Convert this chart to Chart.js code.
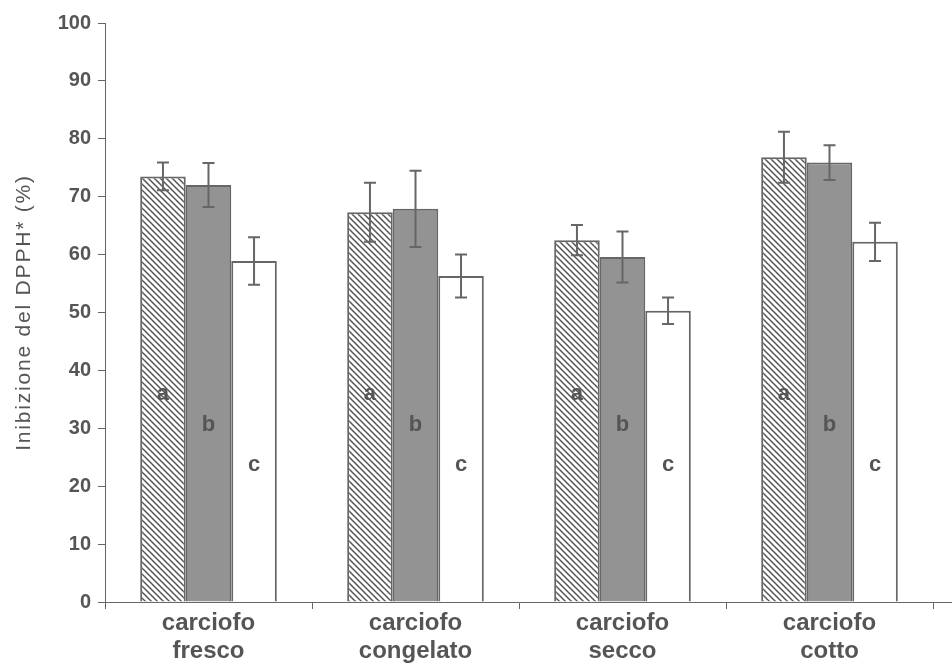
<!DOCTYPE html>
<html>
<head>
<meta charset="utf-8">
<script src="https://cdn.jsdelivr.net/npm/chart.js@4.4.1/dist/chart.umd.min.js"></script>
<style>
  html, body { margin: 0; padding: 0; background: #fff; }
  #wrap { width: 952px; height: 666px; position: relative; }
</style>
</head>
<body>
<div id="wrap"><canvas id="c"></canvas></div>
<script>
// ---- data ----
const categories = [["carciofo", "fresco"], ["carciofo", "congelato"], ["carciofo", "secco"], ["carciofo", "cotto"]];
const seriesLetters = ["a", "b", "c"];
const seriesA = [73.5, 67.3, 62.5, 76.8];
const seriesB = [72.0, 67.9, 59.6, 75.9];
const seriesC = [58.9, 56.3, 50.3, 62.2];
const errA = [2.4, 5.1, 2.6, 4.4];
const errB = [3.8, 6.6, 4.4, 3.0];
const errC = [4.1, 3.7, 2.3, 3.3];
const yTicks = [0, 10, 20, 30, 40, 50, 60, 70, 80, 90, 100];
const yTitle = "Inibizione del DPPH* (%)";

// ---- styles ----
const TXT = "#555555";
const EDGE = "#666666";
const FONT = "'Liberation Sans', Arial, sans-serif";

function hatchPattern() {
  const s = 6;
  const cv = document.createElement("canvas");
  cv.width = s; cv.height = s;
  const g = cv.getContext("2d");
  g.fillStyle = "#ffffff";
  g.fillRect(0, 0, s, s);
  g.strokeStyle = "#555555";
  g.lineWidth = 1.5;
  g.beginPath();
  g.moveTo(-1, -1); g.lineTo(s + 1, s + 1);
  g.moveTo(-1, s - 1); g.lineTo(1, s + 1);
  g.moveTo(s - 1, -1); g.lineTo(s + 1, 1);
  g.stroke();
  return document.getElementById("c").getContext("2d").createPattern(cv, "repeat");
}

const errPlugin = {
  id: "errBars",
  afterDatasetsDraw(chart, args, opts) {
    const ctx = chart.ctx;
    const y = chart.scales.y;
    ctx.save();
    chart.data.datasets.forEach((ds, di) => {
      const meta = chart.getDatasetMeta(di);
      meta.data.forEach((bar, i) => {
        const v = ds.data[i], e = ds.err[i];
        const yt = y.getPixelForValue(v + e), yb = y.getPixelForValue(v - e);
        const x = bar.x;
        ctx.strokeStyle = EDGE;
        ctx.lineWidth = 2;
        ctx.beginPath();
        ctx.moveTo(x, yt); ctx.lineTo(x, yb);
        ctx.moveTo(x - 6, yt); ctx.lineTo(x + 6, yt);
        ctx.moveTo(x - 6, yb); ctx.lineTo(x + 6, yb);
        ctx.stroke();
        // letter
        ctx.fillStyle = TXT;
        ctx.font = "bold 22px " + FONT;
        ctx.textAlign = "center";
        ctx.textBaseline = "middle";
        ctx.fillText(ds.letter, x, y.getPixelForValue(opts.letterY[di]));
      });
    });
    // extend x axis line to the right edge
    const ca = chart.chartArea;
    ctx.strokeStyle = EDGE;
    ctx.lineWidth = 1;
    ctx.beginPath();
    ctx.moveTo(ca.right, y.getPixelForValue(0) + 0.5);
    ctx.lineTo(chart.width, y.getPixelForValue(0) + 0.5);
    ctx.stroke();
    // y axis title (drawn with letter spacing)
    ctx.save();
    ctx.translate(24, (ca.top + ca.bottom) / 2);
    ctx.rotate(-Math.PI / 2);
    ctx.fillStyle = TXT;
    ctx.font = "21px " + FONT;
    if ("letterSpacing" in ctx) ctx.letterSpacing = "1.8px";
    ctx.textAlign = "center";
    ctx.textBaseline = "middle";
    ctx.fillText(yTitle, 0, 0);
    ctx.restore();
    ctx.restore();
  }
};

const common = { borderColor: EDGE, borderWidth: 2, categoryPercentage: 0.66, barPercentage: 1.0 };

new Chart(document.getElementById("c"), {
  type: "bar",
  data: {
    labels: categories,
    datasets: [
      Object.assign({ label: "a", letter: seriesLetters[0], data: seriesA, err: errA, backgroundColor: hatchPattern() }, common),
      Object.assign({ label: "b", letter: seriesLetters[1], data: seriesB, err: errB, backgroundColor: "#939393" }, common),
      Object.assign({ label: "c", letter: seriesLetters[2], data: seriesC, err: errC, backgroundColor: "#ffffff" }, common)
    ]
  },
  plugins: [errPlugin],
  options: {
    responsive: true,
    maintainAspectRatio: false,
    animation: false,
    layout: { padding: { top: 23, right: 19, left: 0, bottom: 0 } },
    plugins: {
      legend: { display: false },
      tooltip: { enabled: false },
      errBars: { letterY: [36, 30.5, 23.6] }
    },
    scales: {
      x: {
        grid: { display: true, drawOnChartArea: false, drawTicks: true, tickLength: 7, color: EDGE, offset: true },
        border: { display: true, color: EDGE, width: 1 },
        ticks: { color: TXT, font: { family: FONT, size: 24, weight: "bold", lineHeight: 1.15 }, padding: 1, maxRotation: 0 },
        afterFit(s) { s.height = 64; }
      },
      y: {
        min: 0, max: 100,
        afterBuildTicks(s) { s.ticks = yTicks.map(v => ({ value: v })); },
        grid: { display: true, drawOnChartArea: false, drawTicks: true, tickLength: 7, color: EDGE },
        border: { display: true, color: EDGE, width: 1 },
        ticks: { color: TXT, font: { family: FONT, size: 20, weight: "bold" }, padding: 7 },
        title: { display: false },
        afterFit(s) { s.width = 105; }
      }
    }
  }
});
</script>
</body>
</html>
